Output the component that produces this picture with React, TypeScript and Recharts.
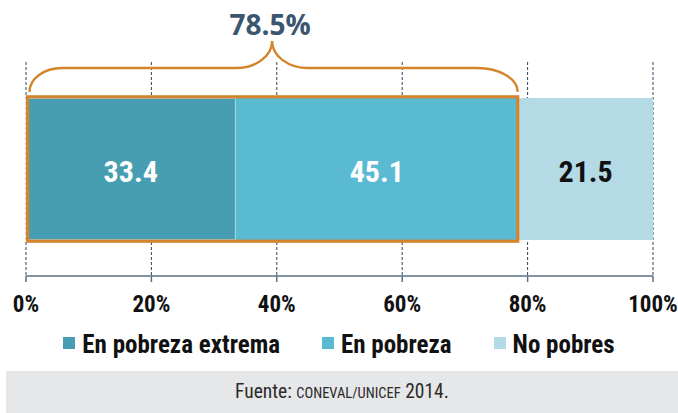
import { BarChart, Bar, XAxis, YAxis, CartesianGrid, LabelList } from "recharts";

const categories = ["Niñas, niños y adolescentes"];
const extrema = [33.4];
const pobreza = [45.1];
const noPobres = [21.5];
const xTicks = [0, 20, 40, 60, 80, 100];
const seriesKeys = ["extrema", "pobreza", "noPobres"];
const seriesNames = ["En pobreza extrema", "En pobreza", "No pobres"];
const seriesColors = ["#479EB2", "#59BAD2", "#B4DAE5"];
const labelColors = ["#FFFFFF", "#FFFFFF", "#111111"];
const source = ["Fuente: ", "CONEVAL/UNICEF", " 2014."];

const NARROW = "'Liberation Sans Narrow', 'Arial Narrow', 'Roboto Condensed', Arial, sans-serif";
const ORANGE = "#D4852B";

const data = categories.map((name, i) => ({
  name,
  extrema: extrema[i],
  pobreza: pobreza[i],
  noPobres: noPobres[i],
}));

// share of the population in poverty (extreme + moderate)
const totalPobreza = Math.round((extrema[0] + pobreza[0]) * 10) / 10;

function valueLabel(color: string) {
  return (props: any) => {
    const { x, y, width, height, value } = props;
    return (
      <text
        x={x + width / 2}
        y={y + height / 2 + 12.5}
        textAnchor="middle"
        fill={color}
        fontFamily={NARROW}
        fontWeight={700}
        fontSize={30}
      >
        {Number(value).toFixed(1)}
      </text>
    );
  };
}

// outline + brace around the poverty segments, placed from the last bar's geometry
function PovertyBrace(props: any) {
  const { x, y, width, height } = props;
  const idx = props.index ?? 0;
  const segValue = noPobres[idx];
  if (!width || !segValue) return null;
  const ppu = width / segValue;
  const start = x - totalPobreza * ppu;
  const end = x;
  const mid = (start + end) / 2;
  const yEnd = y - 6;
  const yH = y - 30;
  const yPeak = y - 57;
  const x0 = start + 3.5;
  const x1 = end - 0.5;
  const d = [
    `M ${x0} ${yEnd}`,
    `A ${start + 36 - x0} ${yEnd - yH} 0 0 1 ${start + 36} ${yH}`,
    `L ${mid - 36} ${yH}`,
    `A 36 ${yH - yPeak} 0 0 0 ${mid} ${yPeak}`,
    `A 36 ${yH - yPeak} 0 0 0 ${mid + 36} ${yH}`,
    `L ${end - 41} ${yH}`,
    `A ${x1 - (end - 41)} ${yEnd - yH} 0 0 1 ${x1} ${yEnd}`,
  ].join(" ");
  return (
    <g>
      <rect
        x={start + 1.6}
        y={y - 1.2}
        width={end - start - 2.1}
        height={height + 2.4}
        fill="none"
        stroke={ORANGE}
        strokeWidth={3.2}
      />
      <path d={d} fill="none" stroke={ORANGE} strokeWidth={2.4} />
      <text
        x={mid - 2}
        y={y - 63}
        textAnchor="middle"
        fill="#3C566F"
        fontFamily="'Open Sans', sans-serif"
        fontWeight={700}
        fontSize={28}
      >
        {`${totalPobreza}%`}
      </text>
    </g>
  );
}

export default function App() {
  return (
    <div style={{ position: "absolute", left: 0, top: 0, width: 678, height: 413, background: "#fff" }}>
      <BarChart
        width={678}
        height={413}
        layout="vertical"
        data={data}
        margin={{ top: 62, right: 25, left: 26, bottom: 77 }}
        barSize={142}
      >
        <CartesianGrid horizontal={false} stroke="#2D4560" strokeDasharray="3 2" />
        <XAxis
          type="number"
          domain={[0, 100]}
          ticks={xTicks}
          interval={0}
          tickFormatter={(v: number) => `${v}%`}
          height={60}
          tickSize={6}
          tickMargin={14}
          axisLine={{ stroke: "#5A6F86", strokeWidth: 1.5 }}
          tickLine={{ stroke: "#5A6F86", strokeWidth: 1.5 }}
          tick={{ fill: "#111", fontSize: 23, fontWeight: 700, fontFamily: NARROW }}
        />
        <YAxis type="category" dataKey="name" hide />
        {seriesKeys.map((key, i) => (
          <Bar
            key={key}
            dataKey={key}
            name={seriesNames[i]}
            stackId="a"
            fill={seriesColors[i]}
            stroke={i === 0 ? "#FFFFFF" : "none"}
            strokeWidth={1}
            isAnimationActive={false}
            label={i === seriesKeys.length - 1 ? <PovertyBrace /> : undefined}
          >
            <LabelList dataKey={key} content={valueLabel(labelColors[i])} />
          </Bar>
        ))}
      </BarChart>

      <div
        style={{
          position: "absolute",
          top: 332,
          left: 0,
          width: 678,
          display: "flex",
          justifyContent: "center",
          alignItems: "center",
          gap: 42,
          fontFamily: NARROW,
          fontWeight: 700,
          fontSize: 25,
          lineHeight: "26px",
          color: "#111",
        }}
      >
        {seriesNames.map((n, i) => (
          <div key={n} style={{ display: "flex", alignItems: "center" }}>
            <span
              style={{
                width: 12,
                height: 12,
                background: seriesColors[i],
                marginRight: 7,
                transform: "translateY(-2px)",
              }}
            />
            <span>{n}</span>
          </div>
        ))}
      </div>

      <div
        style={{
          position: "absolute",
          top: 371,
          left: 6,
          width: 672,
          height: 42,
          background: "#E6E7E8",
          display: "flex",
          alignItems: "center",
          justifyContent: "center",
          fontFamily: NARROW,
          fontSize: 19.5,
          lineHeight: "19px",
          color: "#2b2b2b",
        }}
      >
        <span>
          {source[0]}
          <span style={{ fontSize: 14.5 }}>{source[1]}</span>
          {source[2]}
        </span>
      </div>
    </div>
  );
}
